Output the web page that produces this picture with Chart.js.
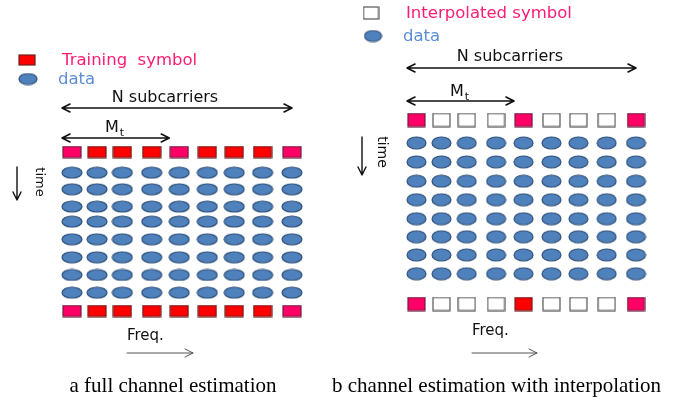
<!DOCTYPE html>
<html>
<head>
<meta charset="utf-8">
<script src="https://cdn.jsdelivr.net/npm/chart.js@4.4.1/dist/chart.umd.min.js"></script>
<style>
  html, body { margin: 0; padding: 0; background: #fff; }
  #wrap { position: relative; width: 683px; height: 406px; overflow: hidden; }
  canvas { position: absolute; top: 0; }
  #left { left: 0; }
  #right { left: 320px; }
</style>
</head>
<body>
<div id="wrap">
  <canvas id="left" width="320" height="406"></canvas>
  <canvas id="right" width="363" height="406"></canvas>
</div>
<script>
// subcarrier positions along freq (read off the figure, not quite even)
const subcarrierPos = [0, 0.91, 1.83, 2.9, 3.9, 4.92, 5.9, 6.93, 8];
// OFDM symbol positions along time, row 0 and row 9 carry the pilots
const timePosA = [0, 1.17, 2.11, 3.09, 3.94, 4.94, 5.96, 6.96, 7.96, 9];
const timePosB = [0, 1.12, 2.05, 2.99, 3.9, 4.83, 5.71, 6.6, 7.52, 9];
// P = training (pink), R = training (red), I = interpolated (empty)
const topRowA = ['P', 'R', 'R', 'R', 'P', 'R', 'R', 'R', 'P'];
const bottomRowA = ['P', 'R', 'R', 'R', 'R', 'R', 'R', 'R', 'P'];
const topRowB = ['P', 'I', 'I', 'I', 'P', 'I', 'I', 'I', 'P'];
const bottomRowB = ['P', 'I', 'I', 'I', 'R', 'I', 'I', 'I', 'P'];
const legendA = ['Training  symbol', 'data'];
const legendB = ['Interpolated symbol', 'data'];
const captionA = 'a full channel estimation';
const captionB = 'b channel estimation with interpolation';

const SANS = '"DejaVu Sans", sans-serif';
const SERIF = '"Liberation Serif", "Times New Roman", serif';
const PINK_TEXT = '#ff1a75';
const BLUE_TEXT = '#5b8ed6';

// small sprites used as point styles
function makeRect(w, h, fill, stroke) {
  const c = document.createElement('canvas');
  c.width = w + 2; c.height = h + 2;
  const g = c.getContext('2d');
  g.fillStyle = fill;
  g.strokeStyle = stroke;
  g.lineWidth = 1.2;
  g.fillRect(1, 1, w, h);
  g.strokeRect(1, 1, w, h);
  return c;
}

function makeEllipse(w, h) {
  const c = document.createElement('canvas');
  c.width = w + 2; c.height = h + 2;
  const g = c.getContext('2d');
  g.beginPath();
  g.ellipse(c.width / 2, c.height / 2, w / 2, h / 2, 0, 0, Math.PI * 2);
  g.fillStyle = '#4f81bd';
  g.fill();
  g.strokeStyle = '#2f5079';
  g.lineWidth = 1.2;
  g.stroke();
  return c;
}

function sprites(w, h, ew, eh) {
  return {
    P: makeRect(w, h, '#ff0066', '#6e1f3c'),
    R: makeRect(w, h, '#ff0000', '#6e1f1f'),
    I: makeRect(w, h, '#ffffff', '#555555'),
    D: makeEllipse(ew, eh)
  };
}

const spritesA = sprites(18, 11, 20, 11);
const spritesB = sprites(17, 13, 19, 12);

function buildPoints(top, bottom, timePos) {
  const pilots = [];
  const data = [];
  subcarrierPos.forEach((x, i) => {
    pilots.push({ x, y: timePos[0], s: top[i] });
    pilots.push({ x, y: timePos[timePos.length - 1], s: bottom[i] });
    for (let r = 1; r < timePos.length - 1; r++) {
      data.push({ x, y: timePos[r], s: 'D' });
    }
  });
  return { pilots, data };
}

function arrow(ctx, x1, y1, x2, y2, both, color, lw) {
  const ang = Math.atan2(y2 - y1, x2 - x1);
  const L = 8, W = 4;
  ctx.save();
  ctx.strokeStyle = color;
  ctx.lineWidth = lw;
  ctx.lineJoin = 'round';
  ctx.lineCap = 'round';
  ctx.beginPath();
  ctx.moveTo(x1, y1);
  ctx.lineTo(x2, y2);
  const head = (x, y, a) => {
    ctx.moveTo(x - L * Math.cos(a) - W * Math.sin(a), y - L * Math.sin(a) + W * Math.cos(a));
    ctx.lineTo(x, y);
    ctx.lineTo(x - L * Math.cos(a) + W * Math.sin(a), y - L * Math.sin(a) - W * Math.cos(a));
  };
  head(x2, y2, ang);
  if (both) head(x1, y1, ang + Math.PI);
  ctx.stroke();
  ctx.restore();
}

// legend, arrows, labels and caption around the grid
const decor = {
  id: 'decor',
  afterDraw(chart, args, o) {
    const ctx = chart.ctx;
    const xs = chart.scales.x;
    const x0 = xs.getPixelForValue(subcarrierPos[0]) - o.half;
    const x8 = xs.getPixelForValue(subcarrierPos[8]);
    const x4 = xs.getPixelForValue(subcarrierPos[4]) - o.half;
    ctx.save();
    ctx.textBaseline = 'middle';

    // legend
    o.legend.forEach(it => {
      ctx.drawImage(it.img, it.x - it.img.width / 2, it.y - it.img.height / 2);
      ctx.font = '16.5px ' + SANS;
      ctx.fillStyle = it.color;
      ctx.textAlign = 'left';
      ctx.fillText(it.text, it.tx, it.y + 1);
    });

    // N subcarriers
    ctx.fillStyle = '#111';
    ctx.font = '16px ' + SANS;
    ctx.textAlign = 'center';
    ctx.fillText('N subcarriers', o.nText[0], o.nText[1]);
    arrow(ctx, x0, o.nArrowY, x8, o.nArrowY, true, '#111', 1.6);

    // M_t
    ctx.textAlign = 'left';
    ctx.textBaseline = 'alphabetic';
    ctx.font = '16px ' + SANS;
    ctx.fillText('M', o.mt[0], o.mt[1]);
    const mw = ctx.measureText('M').width;
    ctx.font = '11px ' + SANS;
    ctx.fillText('t', o.mt[0] + mw + 1, o.mt[1] + 4);
    arrow(ctx, x0, o.mtArrowY, x4, o.mtArrowY, true, '#111', 1.6);

    // time
    const t = o.time;
    arrow(ctx, t.x, t.y1, t.x, t.y2, false, '#111', 1.4);
    ctx.save();
    ctx.translate(t.tx, t.ty);
    ctx.rotate(Math.PI / 2);
    ctx.font = t.size + 'px ' + SANS;
    ctx.textAlign = 'center';
    ctx.textBaseline = 'middle';
    ctx.fillText('time', 0, 0);
    ctx.restore();

    // Freq.
    const f = o.freq;
    ctx.textBaseline = 'middle';
    ctx.textAlign = 'left';
    ctx.font = '15px ' + SANS;
    ctx.fillText('Freq.', f.x, f.y);
    arrow(ctx, f.x, f.ay, f.x + f.len, f.ay, false, '#555', 1);

    // caption
    ctx.fillStyle = '#000';
    ctx.font = '21px ' + SERIF;
    ctx.textAlign = 'center';
    ctx.fillText(o.caption.text, o.caption.x, o.caption.y);
    ctx.restore();
  }
};

function makeChart(id, pts, spr, pad, decorOpts) {
  return new Chart(document.getElementById(id), {
    type: 'scatter',
    data: {
      datasets: [
        { data: pts.data, pointStyle: c => spr[c.raw.s], pointRadius: 5, clip: false },
        { data: pts.pilots, pointStyle: c => spr[c.raw.s], pointRadius: 5, clip: false }
      ]
    },
    options: {
      responsive: false,
      animation: false,
      events: [],
      layout: { padding: pad },
      scales: {
        x: { type: 'linear', min: 0, max: 8, display: false },
        y: { type: 'linear', min: 0, max: 9, reverse: true, display: false }
      },
      plugins: {
        legend: { display: false },
        tooltip: { enabled: false },
        decor: decorOpts
      }
    },
    plugins: [decor]
  });
}

makeChart('left', buildPoints(topRowA, bottomRowA, timePosA), spritesA,
  { left: 72, right: 28, top: 152, bottom: 95 },
  {
    half: 10,
    legend: [
      { img: makeRect(16, 10, '#ff0000', '#6e1f1f'), x: 27, y: 60, tx: 62, text: legendA[0], color: PINK_TEXT },
      { img: makeEllipse(18, 11), x: 28, y: 79, tx: 58, text: legendA[1], color: BLUE_TEXT }
    ],
    nText: [165, 98], nArrowY: 108,
    mt: [105, 132], mtArrowY: 138,
    time: { x: 17, y1: 167, y2: 200, tx: 39, ty: 182, size: 13 },
    freq: { x: 127, y: 336, ay: 353, len: 66 },
    caption: { text: captionA, x: 173, y: 386 }
  });

makeChart('right', buildPoints(topRowB, bottomRowB, timePosB), spritesB,
  { left: 96.5, right: 47, top: 120, bottom: 102 },
  {
    half: 9.5,
    legend: [
      { img: makeRect(15, 12, '#ffffff', '#555555'), x: 51, y: 13, tx: 86, text: legendB[0], color: PINK_TEXT },
      { img: makeEllipse(17, 11), x: 53, y: 36, tx: 83, text: legendB[1], color: BLUE_TEXT }
    ],
    nText: [190, 57], nArrowY: 68,
    mt: [130, 96], mtArrowY: 101,
    time: { x: 42, y1: 137, y2: 175, tx: 62, ty: 152, size: 14 },
    freq: { x: 152, y: 331, ay: 353, len: 65 },
    caption: { text: captionB, x: 176.5, y: 386 }
  });
</script>
</body>
</html>
